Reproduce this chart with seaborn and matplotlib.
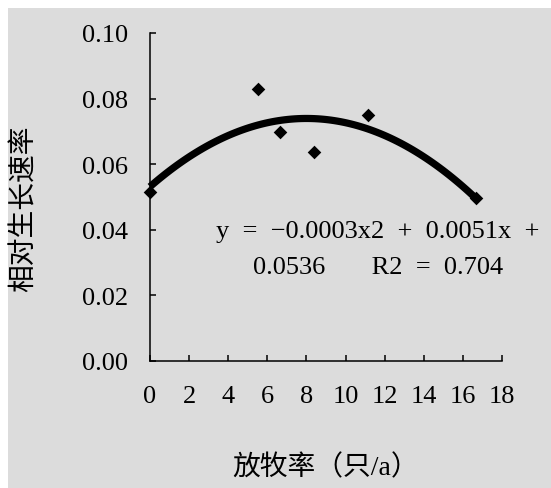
import matplotlib
matplotlib.use("Agg")
import matplotlib.pyplot as plt
import seaborn as sns
import numpy as np
import pandas as pd
from matplotlib.patches import Rectangle

# Grazing rate (head/a) vs. relative growth rate
grazing_rate = [0.0, 5.5, 6.65, 8.4, 11.15, 16.65]
growth_rate = [0.0515, 0.083, 0.0697, 0.0638, 0.075, 0.0497]

x_ticks = [0, 2, 4, 6, 8, 10, 12, 14, 16, 18]
y_ticks = [0.00, 0.02, 0.04, 0.06, 0.08, 0.10]

eq_line1 = "y  =  \u22120.0003x2  +  0.0051x  +"
eq_line2 = "0.0536       R2  =  0.704"
x_label = "放牧率（只/a）"
y_label = "相对生长速率"

sns.set_style("ticks")
plt.rcParams["font.family"] = ["Liberation Serif", "Noto Sans CJK SC"]
plt.rcParams["axes.unicode_minus"] = True

df = pd.DataFrame({"x": grazing_rate, "y": growth_rate})

W, H = 551, 489
fig = plt.figure(figsize=(W / 100, H / 100), dpi=100, facecolor="white")
bg = "#dcdcdc"
fig.patches.append(Rectangle((8 / W, 0), 1 - 8 / W, 1 - 9 / H,
                             transform=fig.transFigure, facecolor=bg,
                             edgecolor="none", zorder=-10))
ax = fig.add_axes([150 / W, 1 - 362 / H, (502 - 150) / W, (362 - 34) / H])
ax.patch.set_alpha(0)

# Scatter of observations with a second-order polynomial trend line
sns.regplot(data=df, x="x", y="y", order=2, ci=None, truncate=True, ax=ax,
            marker="D",
            scatter_kws={"s": 48, "color": "black", "alpha": 1,
                         "clip_on": False, "zorder": 3, "linewidths": 0},
            line_kws={"color": "black", "linewidth": 5.2, "zorder": 2,
                      "clip_on": False, "solid_capstyle": "butt"})

ax.set_xlim(0, 18)
ax.set_ylim(0, 0.10)
ax.set_xticks(x_ticks)
ax.set_yticks(y_ticks)
ax.set_yticklabels([f"{v:.2f}" for v in y_ticks])
ax.set_xticklabels([str(v) for v in x_ticks])

for side in ["top", "right"]:
    ax.spines[side].set_visible(False)
for side in ["left", "bottom"]:
    ax.spines[side].set_color("black")
    ax.spines[side].set_linewidth(1.1)

ax.tick_params(axis="both", direction="in", length=4.5, width=1.1,
               color="black", labelsize=19, labelcolor="black")
ax.tick_params(axis="y", pad=16)
ax.tick_params(axis="x", pad=17)

ax.set_xlabel(x_label, fontsize=20, labelpad=34, color="black")
ax.set_ylabel(y_label, fontsize=20, color="black", va="center")
ax.yaxis.set_label_coords(-0.355, 0.466)

ax.text(11.66, 0.0396, eq_line1, ha="center", va="center", fontsize=19,
        color="black")
ax.text(11.66, 0.0287, eq_line2, ha="center", va="center", fontsize=19,
        color="black")

fig.savefig("out.png", dpi=100, facecolor="white")
